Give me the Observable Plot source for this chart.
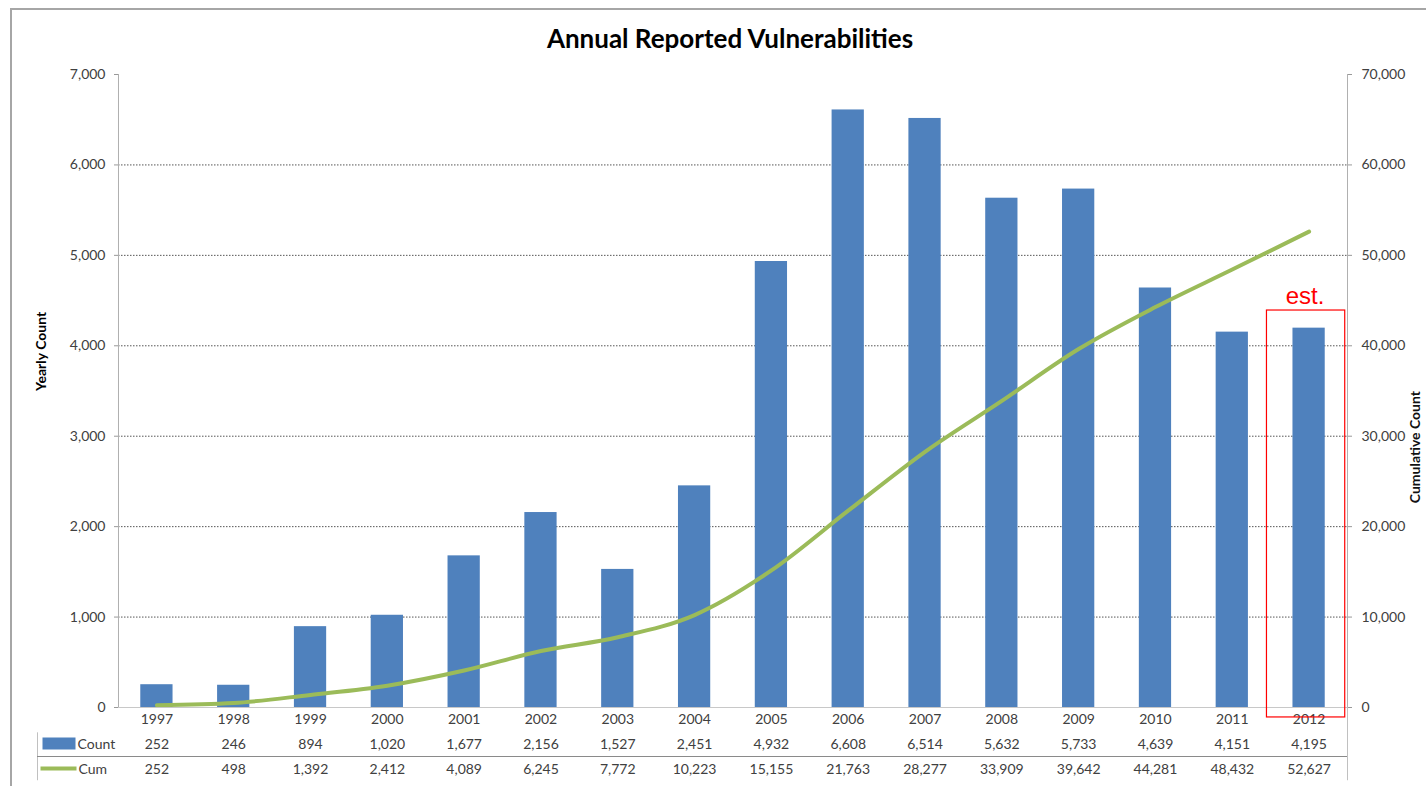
<!DOCTYPE html>
<html>
<head>
<meta charset="utf-8">
<script src="https://cdn.jsdelivr.net/npm/d3@7"></script>
<script src="https://cdn.jsdelivr.net/npm/@observablehq/plot@0.6"></script>
<style>
  html, body { margin: 0; padding: 0; background: #fff; overflow: hidden; }
  #wrap { position: relative; width: 1426px; height: 786px; }
  #border { position: absolute; left: 10px; top: 8px; width: 1420px; height: 790px;
            border-left: 2px solid #a6a6a6; border-top: 2px solid #a6a6a6; pointer-events: none; }
</style>
</head>
<body>
<div id="wrap"><div id="border"></div></div>
<script>
const years = ["1997","1998","1999","2000","2001","2002","2003","2004","2005","2006","2007","2008","2009","2010","2011","2012"];
const counts = [252,246,894,1020,1677,2156,1527,2451,4932,6608,6514,5632,5733,4639,4151,4195];
const cumulative = [252,498,1392,2412,4089,6245,7772,10223,15155,21763,28277,33909,39642,44281,48432,52627];
const leftTicks = [0,1000,2000,3000,4000,5000,6000,7000];
const gridTicks = [1000,2000,3000,4000,5000,6000];
const estimatedYear = "2012";

const data = years.map((y, i) => ({year: y, count: counts[i], cum: cumulative[i]}));
const fmt = d3.format(",");
const font = "Lato, 'Open Sans', sans-serif";
const tickColor = "#404040";
const half = 1229 / years.length / 2;

const chart = Plot.plot({
  width: 1426,
  height: 786,
  marginLeft: 118,
  marginRight: 79,
  marginTop: 74,
  marginBottom: 79,
  style: {fontFamily: font, fontSize: "14px", color: tickColor, background: "transparent"},
  x: {domain: years, paddingInner: 0.58, paddingOuter: 0.29, round: false, axis: null},
  y: {domain: [0, 7000], axis: null},
  marks: [
    // gridlines
    Plot.ruleY(gridTicks, {stroke: "#555", strokeDasharray: "1.5,1.5", strokeWidth: 1}),
    // bars
    Plot.barY(data, {x: "year", y: "count", fill: "#4F81BD"}),
    // cumulative line on secondary (x10) scale
    Plot.line(data, {x: "year", y: d => d.cum / 10, stroke: "#9BBB59", strokeWidth: 4, curve: "monotone-x"}),
    // axis lines
    Plot.ruleX([years[0]], {dx: -half, y1: 0, y2: 7000, stroke: "#b0b0b0"}),
    Plot.ruleX([years[years.length - 1]], {dx: half, y1: 0, y2: 7000, stroke: "#b0b0b0"}),
    Plot.ruleY([0], {stroke: "#c8c8c8"}),
    // left axis
    Plot.axisY({anchor: "left", ticks: leftTicks, tickFormat: fmt, tickSize: 4, tickPadding: 9,
                label: null, fontSize: 14, stroke: "#999", fill: tickColor}),
    // right axis (cumulative)
    Plot.axisY({anchor: "right", ticks: leftTicks, tickFormat: d => fmt(d * 10), tickSize: 4, tickPadding: 10,
                label: null, fontSize: 14, stroke: "#999", fill: tickColor}),
    // axis titles
    Plot.text(["Yearly Count"], {frameAnchor: "left", dx: -77, rotate: -90, fontSize: 14, fontWeight: "bold", fill: "#000"}),
    Plot.text(["Cumulative Count"], {frameAnchor: "right", dx: 68, rotate: -90, fontSize: 14, fontWeight: "bold", fill: "#111"}),
    // title
    Plot.text(["Annual Reported Vulnerabilities"], {frameAnchor: "top", dx: -3, dy: -35, lineAnchor: "middle",
                fontSize: 26, fontWeight: "bold", fill: "#000"}),
    // data table: separators
    Plot.ruleX(years, {x: "year", dx: -half, y1: 0, y2: -810, stroke: "#c0c0c0"}),
    Plot.ruleX([years[years.length - 1]], {dx: half, y1: 0, y2: -810, stroke: "#c0c0c0"}),
    Plot.ruleX([years[0]], {dx: -half - 81, y1: -280, y2: -810, stroke: "#c0c0c0"}),
    Plot.ruleY([-542], {insetLeft: -81, stroke: "#8a8a8a"}),
    // data table: rows
    Plot.text(data, {x: "year", y: 0, dy: 12, text: "year", fill: tickColor, fontSize: 14}),
    Plot.text(data, {x: "year", y: 0, dy: 37, text: d => fmt(d.count), fill: tickColor, fontSize: 14}),
    Plot.text(data, {x: "year", y: 0, dy: 62, text: d => fmt(d.cum), fill: tickColor, fontSize: 14}),
    // data table legend keys
    Plot.frame({fill: "#4F81BD", stroke: null, insetLeft: -76, insetRight: 1272, insetTop: 663, insetBottom: -42}),
    Plot.frame({fill: "#9BBB59", stroke: null, insetLeft: -78, insetRight: 1271, insetTop: 692, insetBottom: -63}),
    Plot.text(["Count"], {frameAnchor: "bottom-left", dx: -41, dy: 37, textAnchor: "start", lineAnchor: "middle", fill: tickColor, fontSize: 14}),
    Plot.text(["Cum"], {frameAnchor: "bottom-left", dx: -40, dy: 62, textAnchor: "start", lineAnchor: "middle", fill: tickColor, fontSize: 14}),
    // estimate annotation
    Plot.barY([estimatedYear], {x: d => d, y1: -110, y2: 4390, fill: "none", stroke: "#ff0000", strokeWidth: 1.2,
                insetLeft: -26, insetRight: -20}),
    Plot.text([estimatedYear], {x: d => d, y: 4390, dx: -4, dy: -14, text: () => "est.", fill: "#ff0000",
                fontSize: 24, fontFamily: "'Liberation Sans', Arial, sans-serif", lineAnchor: "middle"})
  ]
});
document.getElementById("wrap").prepend(chart);
chart.style.position = "absolute";
chart.style.left = "0";
chart.style.top = "0";
</script>
</body>
</html>
